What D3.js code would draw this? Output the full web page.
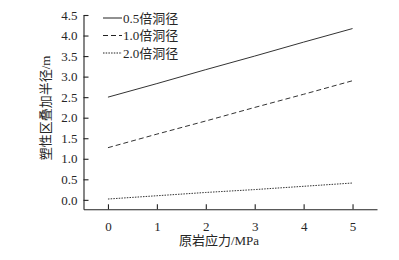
<!DOCTYPE html>
<html>
<head>
<meta charset="utf-8">
<script src="https://cdn.jsdelivr.net/npm/d3@7"></script>
<style>
  body { margin: 0; background: #fff; }
  text { font-family: "Liberation Serif", "Times New Roman", "Noto Sans CJK SC", serif; fill: #262626; }
</style>
</head>
<body>
<div id="chart"></div>
<script>
// Data
const stress = [0, 1, 2, 3, 4, 5];
const seriesNames = ["0.5倍洞径", "1.0倍洞径", "2.0倍洞径"];
const radius05 = [2.50, 2.83, 3.17, 3.50, 3.84, 4.17];
const radius10 = [1.27, 1.60, 1.92, 2.25, 2.57, 2.90];
const radius20 = [0.02, 0.10, 0.18, 0.25, 0.33, 0.41];
const yTicks = [0, 0.5, 1, 1.5, 2, 2.5, 3, 3.5, 4, 4.5];

const width = 399, height = 260;
const svg = d3.select("#chart").append("svg")
    .attr("width", width)
    .attr("height", height);

// Scales
const x = d3.scaleLinear().domain([-0.5, 5.5]).range([83.5, 377]);
const y = d3.scaleLinear().domain([-0.23, 4.5]).range([209.3, 15]);

// Axes (ticks inward)
const xAxis = svg.append("g")
    .attr("transform", `translate(0, ${y(-0.23)})`)
    .call(d3.axisBottom(x).tickValues(stress).tickFormat(d3.format("d")).tickSize(-5).tickSizeOuter(0));
xAxis.selectAll("text").attr("y", 12).style("font-size", "13px");

const yAxis = svg.append("g")
    .attr("transform", `translate(${x(-0.5)}, 0)`)
    .call(d3.axisLeft(y).tickValues(yTicks).tickFormat(d3.format(".1f")).tickSize(-5).tickSizeOuter(0));
yAxis.selectAll("text").attr("x", -6).style("font-size", "13px");

svg.selectAll(".domain, .tick line").attr("stroke", "#222").attr("stroke-width", 1.1);

// Axis labels
svg.append("text")
    .attr("transform", "translate(50, 108) rotate(-90)")
    .attr("text-anchor", "middle")
    .style("font-size", "13px")
    .text("塑性区叠加半径/m");

svg.append("text")
    .attr("x", 219)
    .attr("y", 245)
    .attr("text-anchor", "middle")
    .style("font-size", "13px")
    .text("原岩应力/MPa");

// Lines
const series = [
  { name: seriesNames[0], values: radius05, dash: null },
  { name: seriesNames[1], values: radius10, dash: "5,3" },
  { name: seriesNames[2], values: radius20, dash: "1.5,1.2" }
];

const line = d3.line()
    .x((d, i) => x(stress[i]))
    .y(d => y(d));

svg.selectAll(".series")
    .data(series)
    .enter()
    .append("path")
    .attr("class", "series")
    .attr("d", d => line(d.values))
    .attr("fill", "none")
    .attr("stroke", "#333")
    .attr("stroke-width", 1)
    .attr("stroke-dasharray", d => d.dash);

// Legend
const legend = svg.selectAll(".legend")
    .data(series)
    .enter()
    .append("g")
    .attr("class", "legend")
    .attr("transform", (d, i) => `translate(103, ${18 + i * 17.5})`);

legend.append("line")
    .attr("x1", 0).attr("x2", 19)
    .attr("stroke", "#222")
    .attr("stroke-width", 1)
    .attr("stroke-dasharray", d => d.dash);

legend.append("text")
    .attr("x", 20)
    .attr("dy", "0.35em")
    .style("font-size", "13px")
    .text(d => d.name);
</script>
</body>
</html>
